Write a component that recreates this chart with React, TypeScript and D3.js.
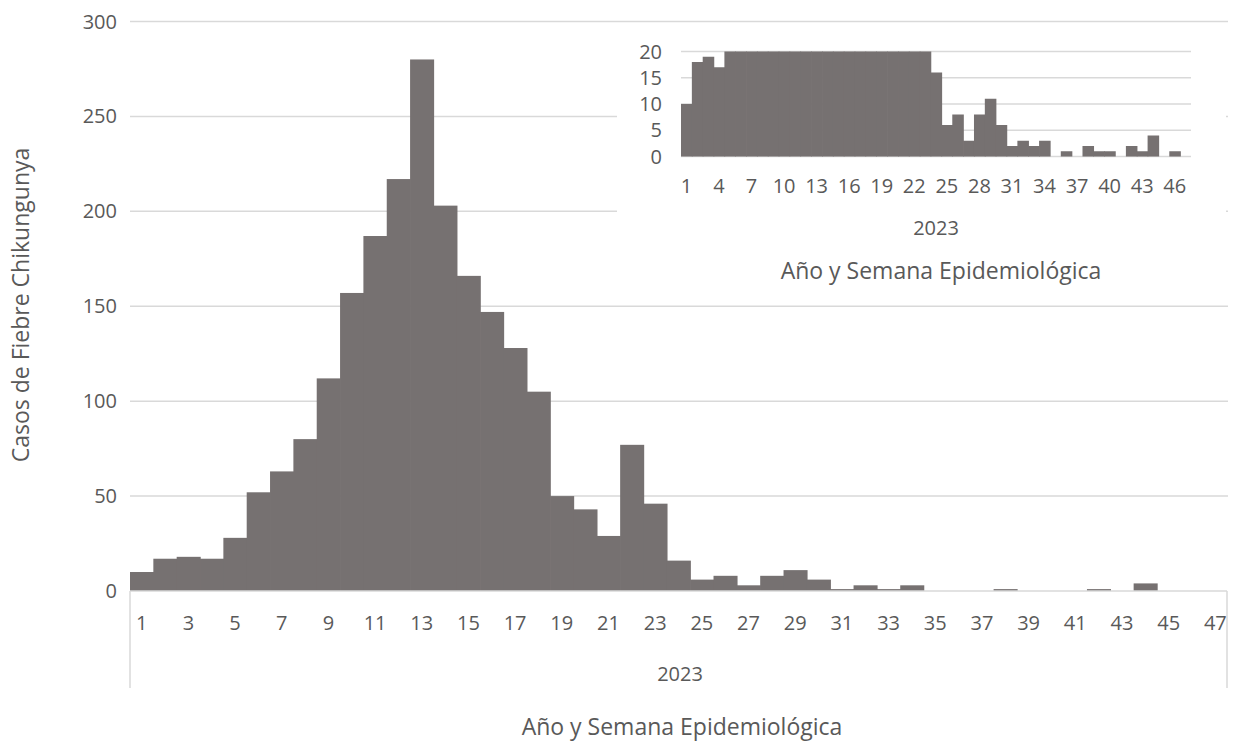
import React, { useEffect, useRef } from 'react';
import * as d3 from 'd3';

// semanas epidemiológicas 2023
const semanas = [
  1, 2, 3, 4, 5, 6, 7, 8, 9, 10, 11, 12, 13, 14, 15, 16, 17, 18, 19, 20, 21, 22, 23, 24,
  25, 26, 27, 28, 29, 30, 31, 32, 33, 34, 35, 36, 37, 38, 39, 40, 41, 42, 43, 44, 45, 46, 47,
];

// casos por semana (gráfico principal)
const casos = [
  10, 17, 18, 17, 28, 52, 63, 80, 112, 157, 187, 217, 280, 203, 166, 147, 128, 105, 50, 43, 29, 77, 46, 16,
  6, 8, 3, 8, 11, 6, 1, 3, 1, 3, 0, 0, 0, 1, 0, 0, 0, 1, 0, 4, 0, 0, 0,
];

// casos por semana (detalle, eje hasta 20)
const casosDetalle = [
  10, 18, 19, 17, 28, 52, 63, 80, 112, 157, 187, 217, 280, 203, 166, 147, 128, 105, 50, 43, 29, 77, 46, 16,
  6, 8, 3, 8, 11, 6, 2, 3, 2, 3, 0, 1, 0, 2, 1, 1, 0, 2, 1, 4, 0, 1, 0,
];

const yTicks = [0, 50, 100, 150, 200, 250, 300];
const yTicksDetalle = [0, 5, 10, 15, 20];
const etiquetasX = semanas.filter(s => s % 2 === 1);
const etiquetasDetalle = semanas.filter(s => (s - 1) % 3 === 0 && s <= 46);
const anio = '2023';
const tituloX = 'Año y Semana Epidemiológica';
const tituloY = 'Casos de Fiebre Chikungunya';

const BAR = '#767171';
const GRID = '#d9d9d9';
const TEXT = '#595959';
const FONT = "'Open Sans', sans-serif";

const App: React.FC = () => {
  const ref = useRef<SVGSVGElement | null>(null);

  useEffect(() => {
    if (!ref.current) return;
    document.body.style.margin = '0';
    const svg = d3.select(ref.current);
    svg.selectAll('*').remove();

    // ---- main chart ----
    const x = d3.scaleBand<number>().domain(semanas).range([130, 1227]).padding(0);
    const y = d3.scaleLinear().domain([0, 300]).range([591, 21.5]);

    svg.append('g')
      .selectAll('line')
      .data(yTicks.filter(t => t > 0))
      .enter().append('line')
      .attr('x1', 130).attr('x2', 1228)
      .attr('y1', d => y(d)).attr('y2', d => y(d))
      .attr('stroke', GRID).attr('stroke-width', 1.5);

    // bars touch each other (gap 0); small overlap hides AA seams
    svg.append('g')
      .selectAll('rect')
      .data(casos)
      .enter().append('rect')
      .attr('x', (d, i) => x(semanas[i]) as number)
      .attr('width', x.bandwidth() + 0.7)
      .attr('y', d => y(d))
      .attr('height', d => y(0) - y(d))
      .attr('fill', BAR);

    // axis + multi-level borders
    const axis = svg.append('g').attr('stroke', GRID).attr('stroke-width', 1.5);
    axis.append('line').attr('x1', 130).attr('x2', 1227).attr('y1', y(0)).attr('y2', y(0));
    axis.append('line').attr('x1', 130).attr('x2', 130).attr('y1', y(0)).attr('y2', 688);
    axis.append('line').attr('x1', 1227).attr('x2', 1227).attr('y1', y(0)).attr('y2', 688);

    const ticks = svg.append('g').attr('class', 'ticks');

    ticks.append('g')
      .selectAll('text')
      .data(yTicks)
      .enter().append('text')
      .attr('x', 117)
      .attr('y', d => y(d))
      .attr('dy', '0.35em')
      .attr('text-anchor', 'end')
      .text(d => d);

    ticks.append('g')
      .selectAll('text')
      .data(etiquetasX)
      .enter().append('text')
      .attr('x', d => (x(d) as number) + x.bandwidth() / 2)
      .attr('y', 630)
      .attr('text-anchor', 'middle')
      .text(d => d);

    ticks.append('text')
      .attr('x', 680).attr('y', 681)
      .attr('text-anchor', 'middle')
      .text(anio);

    const titles = svg.append('g').attr('class', 'titles');

    titles.append('text')
      .attr('x', 682).attr('y', 735)
      .attr('text-anchor', 'middle')
      .text(tituloX);

    titles.append('text')
      .attr('transform', 'translate(29,305) rotate(-90)')
      .attr('text-anchor', 'middle')
      .text(tituloY);

    // ---- inset ----
    svg.append('rect')
      .attr('x', 617).attr('y', 28)
      .attr('width', 609).attr('height', 272)
      .attr('fill', '#ffffff');

    const xi = d3.scaleBand<number>().domain(semanas).range([681, 1191]).padding(0);
    const yi = d3.scaleLinear().domain([0, 20]).range([156.5, 51.5]).clamp(true);

    svg.append('g')
      .selectAll('line')
      .data(yTicksDetalle)
      .enter().append('line')
      .attr('x1', 681).attr('x2', 1191)
      .attr('y1', d => yi(d)).attr('y2', d => yi(d))
      .attr('stroke', GRID).attr('stroke-width', 1.5);

    svg.append('g')
      .selectAll('rect')
      .data(casosDetalle)
      .enter().append('rect')
      .attr('x', (d, i) => xi(semanas[i]) as number)
      .attr('width', xi.bandwidth() + 0.7)
      .attr('y', d => yi(d))
      .attr('height', d => yi(0) - yi(d))
      .attr('fill', BAR);

    const ticksI = svg.append('g').attr('class', 'ticks');

    ticksI.append('g')
      .selectAll('text')
      .data(yTicksDetalle)
      .enter().append('text')
      .attr('x', 662)
      .attr('y', d => yi(d))
      .attr('dy', '0.35em')
      .attr('text-anchor', 'end')
      .text(d => d);

    ticksI.append('g')
      .selectAll('text')
      .data(etiquetasDetalle)
      .enter().append('text')
      .attr('x', d => (xi(d) as number) + xi.bandwidth() / 2)
      .attr('y', 193)
      .attr('text-anchor', 'middle')
      .text(d => d);

    ticksI.append('text')
      .attr('x', 936).attr('y', 235)
      .attr('text-anchor', 'middle')
      .text(anio);

    svg.append('g').attr('class', 'titles')
      .append('text')
      .attr('x', 941).attr('y', 279)
      .attr('text-anchor', 'middle')
      .text(tituloX);

    svg.selectAll('text')
      .attr('fill', TEXT)
      .style('font-family', FONT);
    svg.selectAll('.ticks text').style('font-size', '20px');
    svg.selectAll('.titles text').style('font-size', '23px');
  }, []);

  return <svg ref={ref} width={1235} height={742} style={{ display: 'block', background: '#fff' }}></svg>;
};

export default App;
